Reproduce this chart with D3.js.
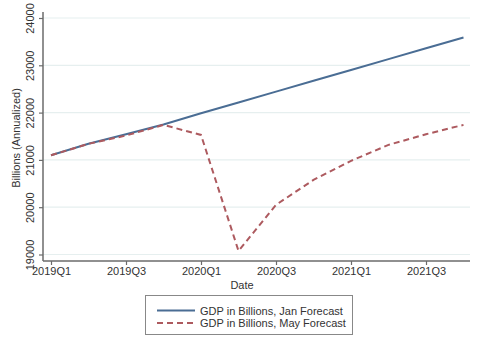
<!DOCTYPE html>
<html>
<head>
<meta charset="utf-8">
<script src="https://cdn.jsdelivr.net/npm/d3@7"></script>
<style>
  html, body { margin: 0; padding: 0; background: #fff; }
  svg { display: block; font-family: Arial, "Liberation Sans", sans-serif; }
</style>
</head>
<body>
<svg id="chart" width="484" height="351"></svg>
<script>
const quarters = ["2019Q1","2019Q2","2019Q3","2019Q4","2020Q1","2020Q2","2020Q3","2020Q4","2021Q1","2021Q2","2021Q3","2021Q4"];
const janForecast = [21098, 21340, 21542, 21750, 21985, 22214, 22443, 22672, 22901, 23130, 23359, 23588];
const mayForecast = [21098, 21340, 21515, 21740, 21528, 19076, 20050, 20577, 20980, 21317, 21543, 21740];
const yTicks = [19000, 20000, 21000, 22000, 23000, 24000];
const xTickLabels = ["2019Q1","2019Q3","2020Q1","2020Q3","2021Q1","2021Q3"];
const seriesNames = ["GDP in Billions, Jan Forecast", "GDP in Billions, May Forecast"];

const svg = d3.select("#chart");
const axisColor = "#6b6b6b";
const janColor = "#4a6d94";
const mayColor = "#ad5a5f";

const x = d3.scalePoint().domain(quarters).range([51, 463.5]);
const y = d3.scaleLinear().domain([19000, 24000]).range([254.5, 18]);

const plotLeft = 43, plotRight = 470, plotBottom = 261, plotTop = 12;

// gridlines
svg.append("g").selectAll("line").data(yTicks).join("line")
  .attr("x1", plotLeft).attr("x2", plotRight)
  .attr("y1", d => y(d)).attr("y2", d => y(d))
  .attr("stroke", "#e6efef").attr("stroke-width", 1.2);

// y axis
const yAxis = d3.axisLeft(y).tickValues(yTicks).tickSize(4).tickFormat(d3.format("d"));
const gy = svg.append("g").attr("transform", `translate(${plotLeft},0)`).call(yAxis);
gy.select(".domain").remove();
gy.append("line").attr("x1", 0).attr("x2", 0).attr("y1", plotTop).attr("y2", plotBottom)
  .attr("stroke", axisColor).attr("stroke-width", 1.5);
gy.selectAll(".tick line").attr("stroke", axisColor).attr("stroke-width", 1.2);
gy.selectAll(".tick text")
  .attr("fill", "#333").attr("font-size", 11)
  .attr("x", 0).attr("dy", 0)
  .attr("text-anchor", "middle")
  .attr("transform", d => `translate(-9,0) rotate(-90)`)
  .attr("dominant-baseline", "auto")
  .attr("y", 0);

// x axis
const xAxis = d3.axisBottom(x).tickValues(xTickLabels).tickSize(4);
const gx = svg.append("g").attr("transform", `translate(0,${plotBottom})`).call(xAxis);
gx.select(".domain").remove();
gx.append("line").attr("x1", plotLeft).attr("x2", plotRight).attr("y1", 0).attr("y2", 0)
  .attr("stroke", axisColor).attr("stroke-width", 1.5);
gx.selectAll(".tick line").attr("stroke", axisColor).attr("stroke-width", 1.2);
gx.selectAll(".tick text").attr("fill", "#333").attr("font-size", 11).attr("y", 6);

// axis titles
svg.append("text").attr("x", 242).attr("y", 289).attr("text-anchor", "middle")
  .attr("font-size", 11).attr("fill", "#333").text("Date");
svg.append("text").attr("transform", "translate(20,138) rotate(-90)")
  .attr("text-anchor", "middle").attr("font-size", 11).attr("fill", "#333")
  .text("Billions (Annualized)");

// lines
const line = d3.line().x((d, i) => x(quarters[i])).y(d => y(d));
svg.append("path").datum(janForecast).attr("d", line)
  .attr("fill", "none").attr("stroke", janColor).attr("stroke-width", 2);
svg.append("path").datum(mayForecast).attr("d", line)
  .attr("fill", "none").attr("stroke", mayColor).attr("stroke-width", 2)
  .attr("stroke-dasharray", "6,4");

// legend
const lg = svg.append("g");
lg.append("rect").attr("x", 145.5).attr("y", 295.5).attr("width", 207).attr("height", 39)
  .attr("fill", "#fff").attr("stroke", "#888").attr("stroke-width", 1);
const legendRows = [{name: seriesNames[0], color: janColor, dash: null},
                    {name: seriesNames[1], color: mayColor, dash: "6,4"}];
legendRows.forEach((r, i) => {
  const yy = 310.5 + i * 12.5;
  lg.append("line").attr("x1", 157).attr("x2", 195).attr("y1", yy).attr("y2", yy)
    .attr("stroke", r.color).attr("stroke-width", 2)
    .attr("stroke-dasharray", r.dash);
  lg.append("text").attr("x", 200).attr("y", yy + 4).attr("font-size", 11)
    .attr("fill", "#333").text(r.name);
});
</script>
</body>
</html>
